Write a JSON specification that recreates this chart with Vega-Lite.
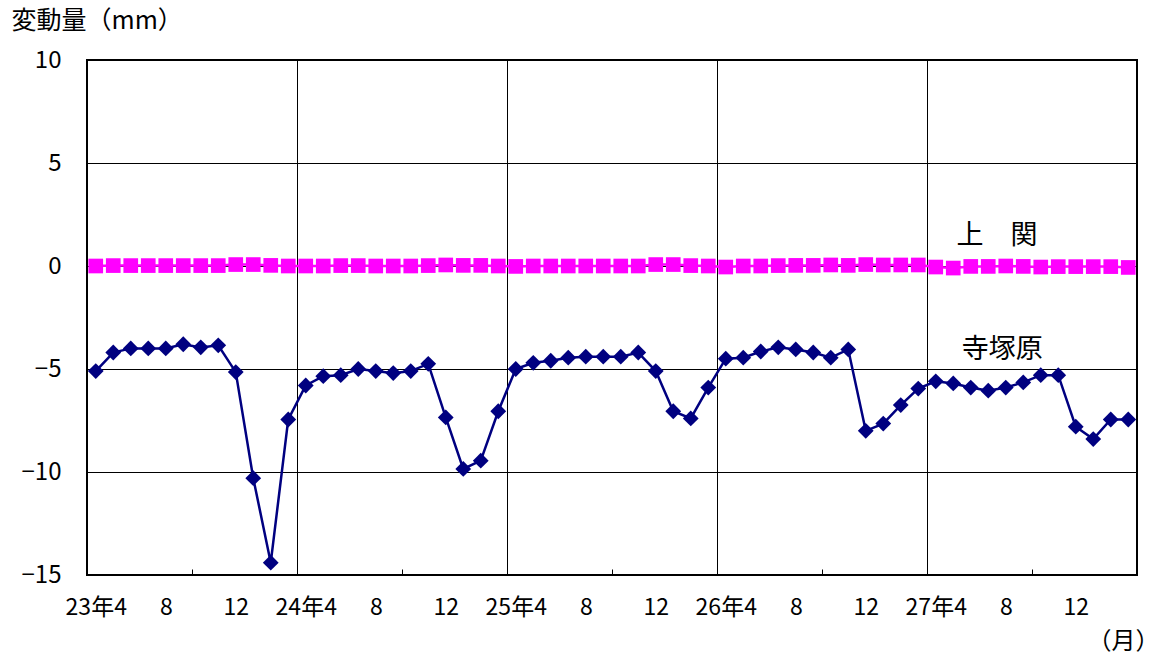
{
  "$schema": "https://vega.github.io/schema/vega-lite/v6.json",
  "width": 1050,
  "height": 515,
  "autosize": {"type": "none"},
  "padding": {"left": 87, "top": 60, "right": 24, "bottom": 82},
  "background": "white",
  "config": {
    "font": "Noto Sans CJK JP",
    "view": {"stroke": "black", "strokeWidth": 2}
  },
  "datasets": {
    "series": [
      {"i":0,"series":"寺塚原","value":-5.1},{"i":1,"series":"寺塚原","value":-4.2},{"i":2,"series":"寺塚原","value":-4.0},{"i":3,"series":"寺塚原","value":-4.0},{"i":4,"series":"寺塚原","value":-4.0},{"i":5,"series":"寺塚原","value":-3.8},{"i":6,"series":"寺塚原","value":-3.95},{"i":7,"series":"寺塚原","value":-3.85},{"i":8,"series":"寺塚原","value":-5.15},{"i":9,"series":"寺塚原","value":-10.3},{"i":10,"series":"寺塚原","value":-14.4},{"i":11,"series":"寺塚原","value":-7.45},
      {"i":12,"series":"寺塚原","value":-5.8},{"i":13,"series":"寺塚原","value":-5.35},{"i":14,"series":"寺塚原","value":-5.3},{"i":15,"series":"寺塚原","value":-5.0},{"i":16,"series":"寺塚原","value":-5.1},{"i":17,"series":"寺塚原","value":-5.2},{"i":18,"series":"寺塚原","value":-5.1},{"i":19,"series":"寺塚原","value":-4.75},{"i":20,"series":"寺塚原","value":-7.35},{"i":21,"series":"寺塚原","value":-9.85},{"i":22,"series":"寺塚原","value":-9.45},{"i":23,"series":"寺塚原","value":-7.05},
      {"i":24,"series":"寺塚原","value":-5.0},{"i":25,"series":"寺塚原","value":-4.7},{"i":26,"series":"寺塚原","value":-4.6},{"i":27,"series":"寺塚原","value":-4.45},{"i":28,"series":"寺塚原","value":-4.4},{"i":29,"series":"寺塚原","value":-4.4},{"i":30,"series":"寺塚原","value":-4.4},{"i":31,"series":"寺塚原","value":-4.2},{"i":32,"series":"寺塚原","value":-5.1},{"i":33,"series":"寺塚原","value":-7.05},{"i":34,"series":"寺塚原","value":-7.4},{"i":35,"series":"寺塚原","value":-5.9},
      {"i":36,"series":"寺塚原","value":-4.5},{"i":37,"series":"寺塚原","value":-4.45},{"i":38,"series":"寺塚原","value":-4.15},{"i":39,"series":"寺塚原","value":-3.95},{"i":40,"series":"寺塚原","value":-4.05},{"i":41,"series":"寺塚原","value":-4.2},{"i":42,"series":"寺塚原","value":-4.45},{"i":43,"series":"寺塚原","value":-4.05},{"i":44,"series":"寺塚原","value":-8.0},{"i":45,"series":"寺塚原","value":-7.65},{"i":46,"series":"寺塚原","value":-6.75},{"i":47,"series":"寺塚原","value":-5.95},
      {"i":48,"series":"寺塚原","value":-5.6},{"i":49,"series":"寺塚原","value":-5.7},{"i":50,"series":"寺塚原","value":-5.9},{"i":51,"series":"寺塚原","value":-6.05},{"i":52,"series":"寺塚原","value":-5.9},{"i":53,"series":"寺塚原","value":-5.65},{"i":54,"series":"寺塚原","value":-5.3},{"i":55,"series":"寺塚原","value":-5.3},{"i":56,"series":"寺塚原","value":-7.8},{"i":57,"series":"寺塚原","value":-8.4},{"i":58,"series":"寺塚原","value":-7.45},{"i":59,"series":"寺塚原","value":-7.45},
      {"i":0,"series":"上関","value":0.0},{"i":1,"series":"上関","value":0.02},{"i":2,"series":"上関","value":0.02},{"i":3,"series":"上関","value":0.02},{"i":4,"series":"上関","value":0.02},{"i":5,"series":"上関","value":0.02},{"i":6,"series":"上関","value":0.02},{"i":7,"series":"上関","value":0.02},{"i":8,"series":"上関","value":0.07},{"i":9,"series":"上関","value":0.07},{"i":10,"series":"上関","value":0.03},{"i":11,"series":"上関","value":0.0},
      {"i":12,"series":"上関","value":0.0},{"i":13,"series":"上関","value":0.0},{"i":14,"series":"上関","value":0.02},{"i":15,"series":"上関","value":0.02},{"i":16,"series":"上関","value":0.0},{"i":17,"series":"上関","value":0.0},{"i":18,"series":"上関","value":0.0},{"i":19,"series":"上関","value":0.02},{"i":20,"series":"上関","value":0.05},{"i":21,"series":"上関","value":0.03},{"i":22,"series":"上関","value":0.03},{"i":23,"series":"上関","value":0.0},
      {"i":24,"series":"上関","value":-0.02},{"i":25,"series":"上関","value":0.0},{"i":26,"series":"上関","value":0.0},{"i":27,"series":"上関","value":0.0},{"i":28,"series":"上関","value":0.0},{"i":29,"series":"上関","value":0.0},{"i":30,"series":"上関","value":0.0},{"i":31,"series":"上関","value":0.0},{"i":32,"series":"上関","value":0.07},{"i":33,"series":"上関","value":0.07},{"i":34,"series":"上関","value":0.02},{"i":35,"series":"上関","value":0.0},
      {"i":36,"series":"上関","value":-0.05},{"i":37,"series":"上関","value":0.0},{"i":38,"series":"上関","value":0.0},{"i":39,"series":"上関","value":0.02},{"i":40,"series":"上関","value":0.03},{"i":41,"series":"上関","value":0.03},{"i":42,"series":"上関","value":0.05},{"i":43,"series":"上関","value":0.03},{"i":44,"series":"上関","value":0.07},{"i":45,"series":"上関","value":0.05},{"i":46,"series":"上関","value":0.05},{"i":47,"series":"上関","value":0.05},
      {"i":48,"series":"上関","value":-0.05},{"i":49,"series":"上関","value":-0.1},{"i":50,"series":"上関","value":-0.02},{"i":51,"series":"上関","value":-0.02},{"i":52,"series":"上関","value":0.0},{"i":53,"series":"上関","value":-0.02},{"i":54,"series":"上関","value":-0.05},{"i":55,"series":"上関","value":-0.03},{"i":56,"series":"上関","value":-0.03},{"i":57,"series":"上関","value":-0.03},{"i":58,"series":"上関","value":-0.03},{"i":59,"series":"上関","value":-0.07}
    ],
    "labels": [
      {"i":51.5,"value":1.45,"label":"上　関"},
      {"i":51.8,"value":-4.1,"label":"寺塚原"}
    ]
  },
  "encoding": {
    "x": {
      "field": "i",
      "type": "quantitative",
      "scale": {"domain": [-0.5, 59.5], "nice": false, "zero": false},
      "axis": {
        "title": "（月）",
        "titleFont": "Noto Sans CJK JP",
        "titleFontSize": 24,
        "titleFontWeight": "normal",
        "titleColor": "black",
        "titleAnchor": null,
        "titleAlign": "center",
        "titleBaseline": "middle",
        "titleX": 1036,
        "titleY": 66,
        "values": [0,4,5.5,8,11.5,12,16,17.5,20,23.5,24,28,29.5,32,35.5,36,40,41.5,44,47.5,48,52,53.5,56],
        "labelExpr": "datum.value % 1 != 0 ? '' : (datum.value % 12 == 0 ? (23 + datum.value / 12) + '年4' : (datum.value % 12 == 4 ? '8' : '12'))",
        "labelFontSize": 23,
        "labelColor": "black",
        "labelPadding": 27,
        "labelOverlap": false,
        "labelFlush": false,
        "labelBound": false,
        "domain": false,
        "ticks": true,
        "tickSize": -6,
        "tickColor": "black",
        "tickOpacity": {"condition": {"test": "datum.value % 1 != 0", "value": 1}, "value": 0},
        "grid": true,
        "gridColor": "black",
        "gridWidth": 1,
        "gridOpacity": {"condition": {"test": "datum.value % 12 == 11.5", "value": 1}, "value": 0}
      }
    },
    "y": {
      "field": "value",
      "type": "quantitative",
      "scale": {"domain": [-15, 10], "nice": false},
      "axis": {
        "title": "変動量（mm）",
        "titleAngle": 0,
        "titleAlign": "left",
        "titleBaseline": "middle",
        "titleAnchor": null,
        "titleX": -76,
        "titleY": -40,
        "titleFontSize": 25,
        "titleFontWeight": "normal",
        "titleColor": "black",
        "values": [-15, -10, -5, 0, 5, 10],
        "labelFontSize": 24,
        "labelColor": "black",
        "labelPadding": 26,
        "ticks": false,
        "domain": false,
        "grid": true,
        "gridColor": "black",
        "gridWidth": 1
      }
    }
  },
  "layer": [
    {
      "data": {"name": "series"},
      "mark": {"type": "line", "strokeWidth": 2.5},
      "encoding": {
        "detail": {"field": "series"},
        "color": {"field": "series", "type": "nominal", "scale": {"domain": ["寺塚原", "上関"], "range": ["#000080", "#FF00FF"]}, "legend": null}
      }
    },
    {
      "data": {"name": "series"},
      "mark": {"type": "point", "filled": true, "opacity": 1},
      "encoding": {
        "color": {"field": "series", "type": "nominal", "scale": {"domain": ["寺塚原", "上関"], "range": ["#000080", "#FF00FF"]}, "legend": null},
        "shape": {"field": "series", "type": "nominal", "scale": {"domain": ["寺塚原", "上関"], "range": ["diamond", "square"]}, "legend": null},
        "size": {"field": "series", "type": "nominal", "scale": {"domain": ["寺塚原", "上関"], "range": [250, 215]}, "legend": null}
      }
    },
    {
      "data": {"name": "labels"},
      "mark": {"type": "text", "fontSize": 27, "color": "black", "align": "center", "baseline": "middle"},
      "encoding": {
        "text": {"field": "label"}
      }
    }
  ]
}
